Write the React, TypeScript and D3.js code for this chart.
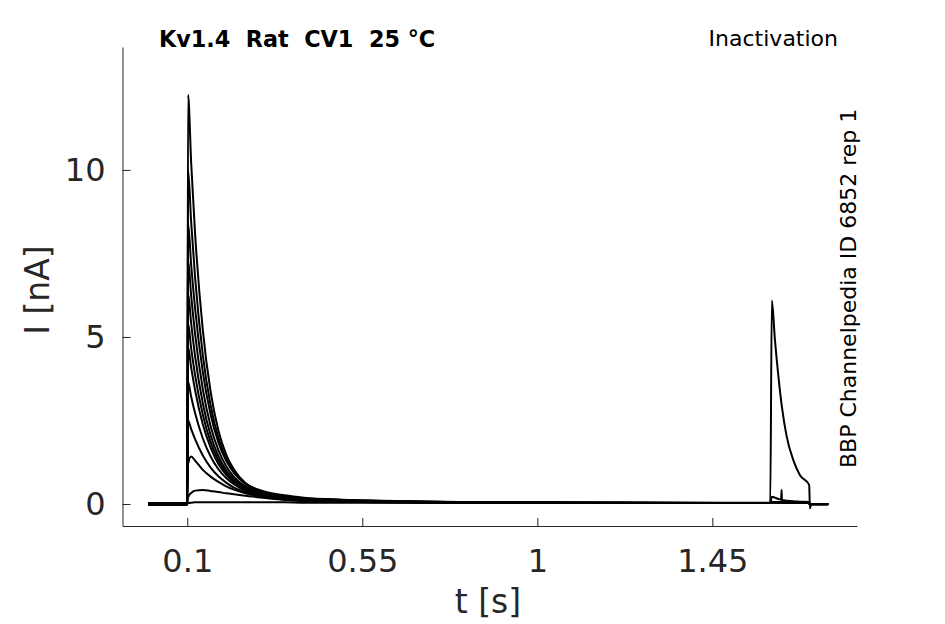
import { useEffect, useRef } from "react";
import * as d3 from "d3";

// sample times (s) shared by every sweep
const TIME = [
  0, 0.099, 0.1, 0.102, 0.11, 0.12, 0.14, 0.16, 0.18, 0.2, 0.22, 0.25, 0.3, 0.35,
  0.4, 0.5, 0.6, 0.8, 1.0, 1.2, 1.4, 1.599, 1.603, 1.611, 1.62, 1.627, 1.628,
  1.629, 1.641, 1.658, 1.675, 1.699, 1.701, 1.704, 1.748,
];

// current (nA) per sweep
const SWEEP_1 = [0.03, 0.03, 0.03, 12.25, 10.2, 8.1, 5.2, 3.36, 2.2, 1.48, 1.03, 0.62, 0.37, 0.26, 0.19, 0.13, 0.1, 0.06, 0.045, 0.04, 0.035, 0.03, 0.05, 0.05, 0.05, 0.05, 0.05, 0.05, 0.05, 0.04, 0.04, 0.04, -0.02, 0, 0];
const SWEEP_2 = [0, 0, 0, 10.0, 8.43, 6.79, 4.45, 2.95, 1.98, 1.36, 0.96, 0.61, 0.34, 0.23, 0.17, 0.12, 0.09, 0.057, 0.042, 0.037, 0.033, 0.03, 0.05, 0.05, 0.05, 0.05, 0.05, 0.05, 0.05, 0.04, 0.04, 0.04, -0.02, 0, 0];
const SWEEP_3 = [-0.03, -0.03, -0.03, 8.4, 7.16, 5.86, 3.94, 2.68, 1.84, 1.29, 0.93, 0.59, 0.33, 0.22, 0.15, 0.11, 0.085, 0.054, 0.04, 0.035, 0.032, 0.03, 0.05, 0.05, 0.05, 0.05, 0.05, 0.05, 0.04, 0.04, 0.04, 0.04, -0.02, 0, 0];
const SWEEP_4 = [0.02, 0.02, 0.02, 7.3, 6.23, 5.1, 3.43, 2.33, 1.61, 1.13, 0.81, 0.52, 0.29, 0.2, 0.14, 0.1, 0.078, 0.05, 0.04, 0.035, 0.03, 0.03, 0.05, 0.05, 0.05, 0.05, 0.05, 0.05, 0.04, 0.04, 0.04, 0.04, -0.02, 0, 0];
const SWEEP_5 = [-0.01, -0.01, -0.01, 6.3, 5.4, 4.43, 3.01, 2.06, 1.43, 1.01, 0.74, 0.48, 0.27, 0.18, 0.12, 0.09, 0.07, 0.05, 0.04, 0.035, 0.03, 0.03, 0.05, 0.05, 0.05, 0.05, 0.05, 0.05, 0.04, 0.04, 0.04, 0.04, -0.02, 0, 0];
const SWEEP_6 = [-0.02, -0.02, -0.02, 5.4, 4.66, 3.86, 2.67, 1.85, 1.31, 0.94, 0.68, 0.45, 0.26, 0.17, 0.12, 0.09, 0.07, 0.047, 0.038, 0.034, 0.03, 0.03, 0.05, 0.05, 0.05, 0.05, 0.05, 0.05, 0.04, 0.04, 0.04, 0.04, -0.02, 0, 0];
const SWEEP_7 = [0.01, 0.01, 0.01, 4.7, 4.08, 3.41, 2.38, 1.69, 1.2, 0.88, 0.65, 0.43, 0.24, 0.16, 0.11, 0.08, 0.064, 0.045, 0.037, 0.033, 0.03, 0.03, 0.05, 0.05, 0.05, 0.05, 0.05, 0.05, 0.04, 0.04, 0.04, 0.04, -0.02, 0, 0];
const SWEEP_8 = [0, 0, 0, 3.65, 3.21, 2.72, 1.96, 1.42, 1.04, 0.78, 0.59, 0.39, 0.23, 0.15, 0.1, 0.075, 0.06, 0.043, 0.036, 0.032, 0.03, 0.03, 0.05, 0.05, 0.05, 0.05, 0.05, 0.05, 0.04, 0.04, 0.04, 0.04, -0.02, 0, 0];
const SWEEP_9 = [-0.01, -0.01, -0.01, 2.5, 2.24, 1.94, 1.45, 1.09, 0.83, 0.64, 0.49, 0.35, 0.21, 0.14, 0.1, 0.07, 0.057, 0.042, 0.035, 0.032, 0.03, 0.03, 0.05, 0.05, 0.05, 0.05, 0.05, 0.05, 0.04, 0.04, 0.04, 0.04, -0.02, 0, 0];
const SWEEP_10 = [0.02, 0.02, 0.02, 1.2, 1.42, 1.3, 1.02, 0.82, 0.66, 0.53, 0.43, 0.32, 0.2, 0.13, 0.09, 0.065, 0.05, 0.04, 0.035, 0.03, 0.03, 0.03, 0.06, 0.06, 0.05, 0.05, 0.05, 0.05, 0.05, 0.04, 0.04, 0.04, -0.02, 0, 0];
const SWEEP_11 = [0, 0, 0, 0.2, 0.33, 0.4, 0.42, 0.39, 0.36, 0.32, 0.29, 0.25, 0.18, 0.13, 0.1, 0.07, 0.05, 0.04, 0.03, 0.03, 0.03, 0.03, 0.22, 0.19, 0.15, 0.13, 0.42, 0.12, 0.1, 0.08, 0.07, 0.06, -0.02, 0, 0];
const SWEEP_12 = [0.01, 0.01, 0.01, 0.02, 0.04, 0.05, 0.05, 0.05, 0.05, 0.05, 0.05, 0.05, 0.05, 0.05, 0.04, 0.04, 0.04, 0.04, 0.04, 0.04, 0.04, 0.04, 6.09, 4.91, 3.81, 3.08, 2.99, 2.9, 2.03, 1.32, 0.87, 0.57, -0.13, -0.02, -0.02];

const SWEEPS = [SWEEP_1, SWEEP_2, SWEEP_3, SWEEP_4, SWEEP_5, SWEEP_6, SWEEP_7, SWEEP_8, SWEEP_9, SWEEP_10, SWEEP_11, SWEEP_12];

const X_TICKS = [0.1, 0.55, 1, 1.45];
const Y_TICKS = [0, 5, 10];

const TITLE = "Kv1.4  Rat  CV1  25 °C";
const PROTOCOL = "Inactivation";
const SOURCE = "BBP Channelpedia ID 6852 rep 1";

const WIDTH = 945;
const HEIGHT = 624;
const AXIS_COLOR = "#262626";
const FONT = "'DejaVu Sans', sans-serif";

export default function App() {
  const svgRef = useRef<SVGSVGElement>(null);

  useEffect(() => {
    if (!svgRef.current) return;
    const svg = d3.select(svgRef.current);
    svg.selectAll("*").remove();

    const plot = { left: 122.5, right: 857, top: 47, bottom: 526 };

    // Scales
    const xScale = d3.scaleLinear().domain([-0.0666, 1.822]).range([plot.left, plot.right]);
    const yScale = d3.scaleLinear().domain([-0.659, 13.68]).range([plot.bottom, plot.top]);

    // Axes (ticks point inward like MATLAB)
    const xAxis = d3
      .axisBottom(xScale)
      .tickValues(X_TICKS)
      .tickFormat((d) => String(d))
      .tickSize(-8)
      .tickSizeOuter(0)
      .tickPadding(23);

    const yAxis = d3
      .axisLeft(yScale)
      .tickValues(Y_TICKS)
      .tickFormat((d) => String(d))
      .tickSize(-8)
      .tickSizeOuter(0)
      .tickPadding(17);

    const gx = svg
      .append("g")
      .attr("transform", `translate(0,${plot.bottom})`)
      .call(xAxis);

    const gy = svg
      .append("g")
      .attr("transform", `translate(${plot.left},0)`)
      .call(yAxis);

    [gx, gy].forEach((g) => {
      g.select(".domain").attr("stroke", AXIS_COLOR).attr("stroke-width", 1);
      g.selectAll(".tick line").attr("stroke", AXIS_COLOR).attr("stroke-width", 1);
      g.selectAll(".tick text")
        .attr("fill", AXIS_COLOR)
        .style("font-family", FONT)
        .style("font-size", "32px");
    });

    // Sweeps
    const line = d3
      .line<number>()
      .x((_, i) => xScale(TIME[i]))
      .y((d) => yScale(d))
      .curve(d3.curveMonotoneX);

    svg
      .append("g")
      .selectAll("path")
      .data(SWEEPS)
      .join("path")
      .attr("d", (d) => line(d))
      .attr("fill", "none")
      .attr("stroke", "#000")
      .attr("stroke-width", 2)
      .attr("stroke-linejoin", "round");

    // Axis labels
    svg
      .append("text")
      .attr("x", 488)
      .attr("y", 613)
      .attr("text-anchor", "middle")
      .attr("fill", AXIS_COLOR)
      .style("font-family", FONT)
      .style("font-size", "33px")
      .text("t [s]");

    svg
      .append("text")
      .attr("transform", "translate(49,290) rotate(-90)")
      .attr("text-anchor", "middle")
      .attr("fill", AXIS_COLOR)
      .style("font-family", FONT)
      .style("font-size", "33px")
      .text("I [nA]");

    // Annotations
    svg
      .append("text")
      .attr("x", 159)
      .attr("y", 47)
      .attr("fill", "#000")
      .style("font-family", FONT)
      .style("font-size", "22.3px")
      .style("font-weight", "bold")
      .style("white-space", "pre")
      .text(TITLE);

    svg
      .append("text")
      .attr("x", 838)
      .attr("y", 46)
      .attr("text-anchor", "end")
      .attr("fill", "#000")
      .style("font-family", FONT)
      .style("font-size", "22px")
      .text(PROTOCOL);

    svg
      .append("text")
      .attr("transform", "translate(856,468) rotate(-90)")
      .attr("fill", "#000")
      .style("font-family", FONT)
      .style("font-size", "22px")
      .text(SOURCE);
  }, []);

  return (
    <svg
      ref={svgRef}
      width={WIDTH}
      height={HEIGHT}
      style={{ position: "absolute", left: 0, top: 0, background: "#fff" }}
    />
  );
}
